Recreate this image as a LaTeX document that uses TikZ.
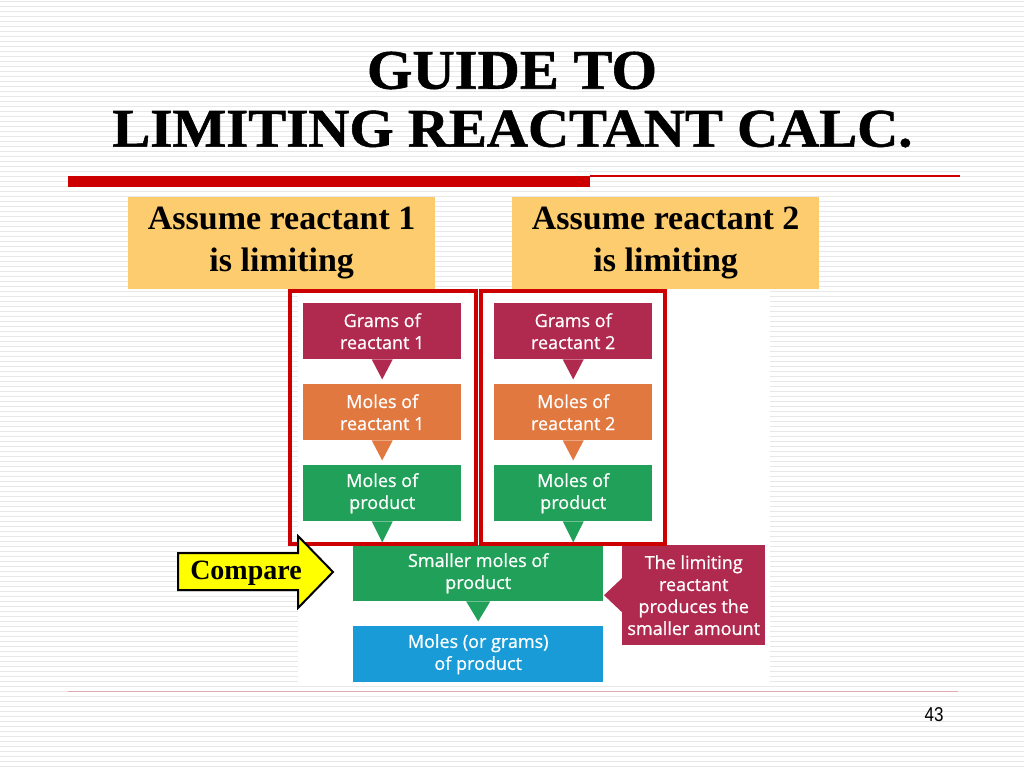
\documentclass[tikz,border=0pt]{standalone}
\usepackage{fontspec}
\usepackage{graphicx}
\usetikzlibrary{calc}
\setmainfont{Liberation Serif}
\newfontfamily\titlefont{Liberation Serif}[BoldFeatures={FakeBold=1}]
\newfontfamily\flowfont{Open Sans}[FakeBold=0.8]
\newfontfamily\numfont{Liberation Sans}
\definecolor{stripegray}{RGB}{232,232,232}
\definecolor{barred}{RGB}{204,0,0}
\definecolor{headyellow}{RGB}{253,204,110}
\definecolor{crim}{RGB}{176,41,78}
\definecolor{orng}{RGB}{224,120,64}
\definecolor{grn}{RGB}{32,160,88}
\definecolor{blu}{RGB}{25,155,215}
\definecolor{cmpyellow}{RGB}{255,255,0}
\definecolor{pinkline}{RGB}{224,170,180}

\begin{document}
\begin{tikzpicture}[x=1pt,y=-1pt,
  stripe/.style={stripegray,line width=1.5pt},
  headbox/.style={fill=headyellow,minimum width=307pt,minimum height=92pt,inner sep=0pt,
    align=center,font=\bfseries\fontsize{34}{42}\selectfont},
  flowbox/.style={minimum width=158pt,minimum height=56pt,inner sep=0pt,align=center,
    text=white,font=\flowfont\fontsize{18}{22}\selectfont},
  wideflow/.style={flowbox,minimum width=250pt},
  frame/.style={barred,line width=4pt}]
\useasboundingbox (0,0) rectangle (1024,768);
% striped background
\fill[white] (0,0) rectangle (1024,768);
\foreach \y in {1.5,6.5,...,768} \draw[stripe] (0,\y)--(1024,\y);
% title
\node[inner sep=0pt] (ttlA) at (512,70.5) {\resizebox{290pt}{37pt}{\titlefont\bfseries GUIDE TO}};
\node[inner sep=0pt] (ttlB) at (512.5,129) {\resizebox{800pt}{36pt}{\titlefont\bfseries LIMITING REACTANT CALC.}};
\fill[barred] (68,176) rectangle (590,187);
\draw[barred,line width=1.2pt] (590,176)--(960,176);
% headers
\node[headbox,anchor=north west] (hdA) at (128,197) {\raisebox{-4pt}{Assume reactant 1}\\\raisebox{-4pt}{is limiting}};
\node[headbox,anchor=north west] (hdB) at (512,197) {\raisebox{-4pt}{Assume reactant 2}\\\raisebox{-4pt}{is limiting}};
% picture panel
\fill[white] (298,291) rectangle (770,685);
% left column
\node[flowbox,fill=crim,anchor=north west] (g1) at (303,303) {Grams of\\reactant 1};
\node[flowbox,fill=orng,anchor=north west] (m1) at (303,384) {Moles of\\reactant 1};
\node[flowbox,fill=grn,anchor=north west] (p1) at (303,465) {Moles of\\product};
\fill[crim] ([xshift=-10.5pt]g1.south)--([xshift=10.5pt]g1.south)--([yshift=-20pt]g1.south)--cycle;
\fill[orng] ([xshift=-10.5pt]m1.south)--([xshift=10.5pt]m1.south)--([yshift=-20pt]m1.south)--cycle;
\fill[grn] ([xshift=-10.5pt]p1.south)--([xshift=10.5pt]p1.south)--([yshift=-21pt]p1.south)--cycle;
% right column
\node[flowbox,fill=crim,anchor=north west] (g2) at (494,303) {Grams of\\reactant 2};
\node[flowbox,fill=orng,anchor=north west] (m2) at (494,384) {Moles of\\reactant 2};
\node[flowbox,fill=grn,anchor=north west] (p2) at (494,465) {Moles of\\product};
\fill[crim] ([xshift=-10.5pt]g2.south)--([xshift=10.5pt]g2.south)--([yshift=-20pt]g2.south)--cycle;
\fill[orng] ([xshift=-10.5pt]m2.south)--([xshift=10.5pt]m2.south)--([yshift=-20pt]m2.south)--cycle;
\fill[grn] ([xshift=-10.5pt]p2.south)--([xshift=10.5pt]p2.south)--([yshift=-21pt]p2.south)--cycle;
% bottom part
\node[wideflow,fill=grn,anchor=north west] (sm) at (353,545) {Smaller moles of\\product};
\fill[grn] ([xshift=-12pt]sm.south)--([xshift=12pt]sm.south)--([yshift=-20pt]sm.south)--cycle;
\node[wideflow,fill=blu,anchor=north west] (mp) at (353,626) {Moles (or grams)\\of product};
\node[flowbox,fill=crim,minimum width=143pt,minimum height=100pt,anchor=north west] (lim) at (622,545)
  {The limiting\\reactant\\produces the\\smaller amount};
\fill[crim] ([yshift=17pt]lim.west)--([yshift=-17pt]lim.west)--([xshift=-18pt]lim.west)--cycle;
% red frames
\draw[frame] (290,291) rectangle (475.5,544);
\draw[frame] (480.5,291) rectangle (665,544);
% compare arrow
\filldraw[fill=cmpyellow,draw=black,line width=2pt,line join=miter]
  (178,553)--(298,553)--(298,536)--(333,572)--(298,608)--(298,590)--(178,590)--cycle;
\node[font=\bfseries\fontsize{28}{30}\selectfont,inner sep=0pt] (cmp) at (246,573) {Compare};
% footer
\draw[pinkline,line width=1pt] (68,691)--(958,691);
\node[font=\numfont\fontsize{20}{22}\selectfont,inner sep=0pt] (pg) at (934,714.5) {\scalebox{0.85}[1]{43}};
\end{tikzpicture}
\end{document}
